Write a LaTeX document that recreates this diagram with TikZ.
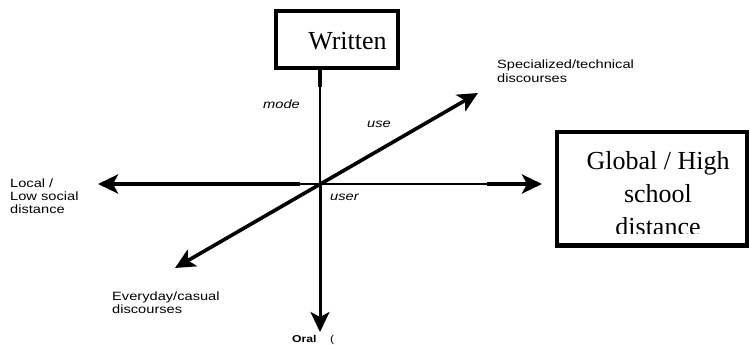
\documentclass[tikz,border=0pt]{standalone}
\usepackage{fontspec}
\setmainfont{Liberation Serif}
\newfontfamily\labfont[FakeStretch=1.22]{Liberation Sans}
\usetikzlibrary{arrows.meta}
\begin{document}
\begin{tikzpicture}[x=1pt,y=-1pt,
  headtip/.tip={Stealth[length=20pt,width=19pt,inset=5pt]},
  tipend/.style={-headtip},
  framebox/.style={draw, line width=4pt, rectangle, inner sep=0pt},
  serif/.style={font=\fontsize{26}{33}\selectfont, anchor=base, inner sep=0pt},
  lab/.style={font=\labfont\fontsize{12}{13}\selectfont, anchor=base west, inner sep=0pt},
  labit/.style={font=\labfont\itshape\fontsize{12}{13}\selectfont, anchor=base west, inner sep=0pt}]
\useasboundingbox (0,0) rectangle (750,345);

% coordinates
\coordinate (O) at (320,184);
\coordinate (vtop) at (320,70);
\coordinate (vstub) at (320,87);
\coordinate (vbot) at (320,332);
\coordinate (hleft) at (98,184);
\coordinate (hlmid) at (300,184);
\coordinate (hrmid) at (487,184);
\coordinate (hright) at (542,184);
\coordinate (dsw) at (175,268);
\coordinate (dne) at (478,93);

% boxes
\node[framebox, minimum width=122pt, minimum height=57pt] (written) at (337,40) {};
\node[serif] (writtentxt) at (347.5,50) {Written};

\node[framebox, line width=4.5pt, minimum width=190pt, minimum height=113.5pt] (global) at (652,188.5) {};
\begin{scope}
  \clip (560,134) rectangle (745,233);
  \node[serif] (g1) at (658,169.5) {Global / High};
  \node[serif] (g2) at (658,202) {school};
  \node[serif] (g3) at (658,235) {distance};
\end{scope}

% vertical axis
\draw[line width=4.5pt] (vtop) -- (vstub);
\draw[line width=2.5pt] (vstub) -- (O);
\draw[line width=3pt, tipend] (O) -- (vbot);

% horizontal axis
\draw[line width=4pt, tipend] (hlmid) -- (hleft);
\draw[line width=1.7pt] (hlmid) -- (hrmid);
\draw[line width=4pt, tipend] (hrmid) -- (hright);

% diagonal
\draw[line width=3.6pt, headtip-headtip] (dsw) -- (dne);

% labels
\node[lab] (spec1) at (497,69) {Specialized/technical};
\node[lab] (spec2) at (497,82) {discourses};
\node[lab] (loc1) at (10,187) {Local /};
\node[lab] (loc2) at (10,200) {Low social};
\node[lab] (loc3) at (10,213) {distance};
\node[lab] (ev1) at (112,300) {Everyday/casual};
\node[lab] (ev2) at (112,313) {discourses};
\node[labit] (mode) at (263,108) {mode};
\node[labit] (use) at (367,127) {use};
\node[labit] (user) at (330,200) {user};
\node[lab, font=\labfont\bfseries\fontsize{10}{11}\selectfont] (oral) at (292,342) {Oral};
\node[lab, font=\labfont\fontsize{10}{11}\selectfont] (paren) at (330,342) {(};
\end{tikzpicture}
\end{document}
